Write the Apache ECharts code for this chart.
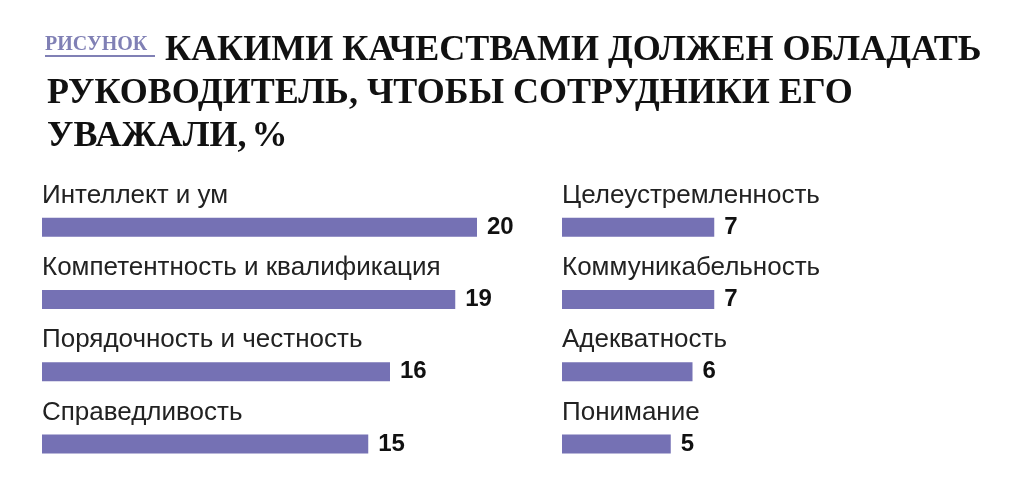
<!DOCTYPE html>
<html><head><meta charset="utf-8">
<script src="https://cdn.jsdelivr.net/npm/echarts@6/dist/echarts.min.js"></script>
<style>html,body{margin:0;background:#fff}#c{width:1020px;height:480px}</style>
</head><body><div id="c"></div>
<script>
var leftNames = ['Интеллект и ум', 'Компетентность и квалификация', 'Порядочность и честность', 'Справедливость'];
var leftValues = [20, 19, 16, 15];
var rightNames = ['Целеустремленность', 'Коммуникабельность', 'Адекватность', 'Понимание'];
var rightValues = [7, 7, 6, 5];

var barColor = '#7571b4';
var chart = echarts.init(document.getElementById('c'));

function grid(left) {
    return {left: left, width: 435, top: 191, height: 297};
}
function xAxis(i) {
    return {gridIndex: i, type: 'value', min: 0, max: 20, show: false};
}
function yAxis(i, names) {
    return {gridIndex: i, type: 'category', data: names, inverse: true, show: false};
}
function seriesFor(i, names, values) {
    return [{
        type: 'bar', xAxisIndex: i, yAxisIndex: i, data: values, barWidth: 19,
        itemStyle: {color: barColor}, silent: true,
        label: {show: true, position: 'right', distance: 10, color: '#111',
            fontFamily: 'Liberation Sans', fontWeight: 'bold', fontSize: 24}
    }, {
        type: 'bar', xAxisIndex: i, yAxisIndex: i, barGap: '-100%', barWidth: 19,
        data: values, itemStyle: {color: 'transparent'}, silent: true,
        label: {show: true, position: 'insideTopLeft', offset: [-5, -40],
            formatter: function (p) { return names[p.dataIndex]; },
            color: '#222', fontFamily: 'Liberation Sans', fontSize: 26}
    }];
}

chart.setOption({
    animation: false,
    title: {
        left: 42, top: 24,
        text: '{s|}{b|КАКИМИ КАЧЕСТВАМИ ДОЛЖЕН ОБЛАДАТЬ}\n{b|РУКОВОДИТЕЛЬ, ЧТОБЫ СОТРУДНИКИ ЕГО}\n{b|УВАЖАЛИ,} {c|%}',
        textStyle: {
            rich: {
                s: {width: 118, lineHeight: 43},
                b: {fontFamily: 'Liberation Serif', fontWeight: 'bold', fontSize: 36, color: '#111', lineHeight: 43},
                c: {fontFamily: 'Liberation Serif', fontSize: 36, color: '#111', lineHeight: 43}
            }
        }
    },
    graphic: [
        {type: 'text', left: 45, top: 35, style: {text: 'РИСУНОК', fill: '#8080b5',
            font: 'bold 20px "Liberation Serif"'}},
        {type: 'rect', shape: {x: 45, y: 55, width: 110, height: 2}, style: {fill: '#8080b5'}}
    ],
    grid: [grid(42), grid(562)],
    xAxis: [xAxis(0), xAxis(1)],
    yAxis: [yAxis(0, leftNames), yAxis(1, rightNames)],
    series: seriesFor(0, leftNames, leftValues).concat(seriesFor(1, rightNames, rightValues))
});
</script></body></html>
